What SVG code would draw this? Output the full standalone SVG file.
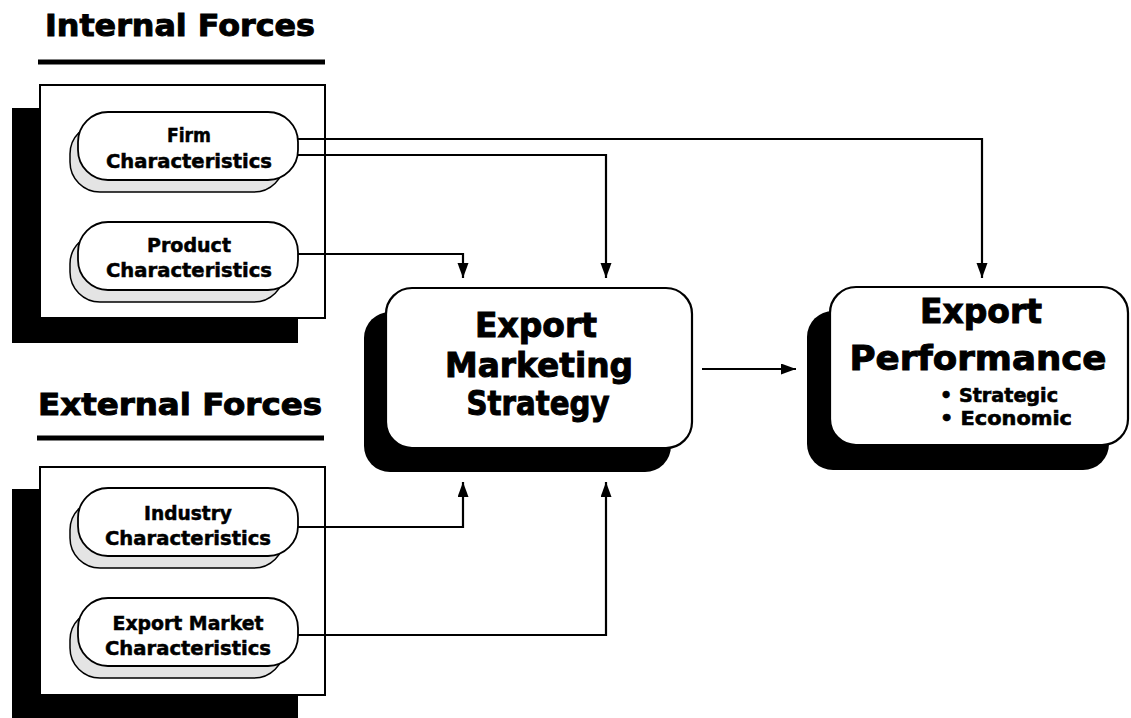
<svg xmlns="http://www.w3.org/2000/svg" width="1131" height="718" viewBox="0 0 1131 718">
<style>
  text { font-family: "DejaVu Sans", "Liberation Sans", sans-serif; font-weight: bold; fill: #000; stroke: #000; }
  .title { font-size: 31px; stroke-width: 1; }
  .small { font-size: 19px; text-anchor: middle; stroke-width: 0.5; }
  .big { font-size: 34px; text-anchor: middle; stroke-width: 1; }
  .bullet { font-size: 19px; stroke-width: 0.6; }
  .shadow { fill: #000; }
  .panel { fill: #fff; stroke: #000; stroke-width: 2; }
  .pill { fill: #fff; stroke: #000; stroke-width: 1.8; }
  .pillback { fill: #e4e4e4; stroke: #000; stroke-width: 1.5; }
  .main { fill: #fff; stroke: #000; stroke-width: 2.2; }
  .conn { fill: none; stroke: #000; stroke-width: 2.2; }
  .rule { stroke: #000; stroke-width: 5; }
</style>
<defs>
  <marker id="arrow" markerUnits="userSpaceOnUse" markerWidth="16" markerHeight="12" refX="15" refY="5.5" orient="auto">
    <path d="M0,0 L15,5.5 L0,11 z" fill="#000"/>
  </marker>
</defs>
<rect width="1131" height="718" fill="#fff"/>

<g id="internal-forces">
  <text class="title" x="45" y="36" textLength="270" lengthAdjust="spacingAndGlyphs">Internal Forces</text>
  <line class="rule" x1="38" y1="62" x2="325" y2="62"/>
  <rect class="shadow" x="12" y="108" width="286" height="235"/>
  <rect class="panel" x="40" y="85" width="285" height="233"/>
</g>

<g id="external-forces">
  <text class="title" x="38" y="415" textLength="284" lengthAdjust="spacingAndGlyphs">External Forces</text>
  <line class="rule" x1="37" y1="438" x2="324" y2="438"/>
  <rect class="shadow" x="12" y="489" width="286" height="235"/>
  <rect class="panel" x="40" y="467" width="285" height="228"/>
</g>

<g id="connectors">
  <path class="conn" d="M297,139 H982 V278" stroke-width="3" marker-end="url(#arrow)"/>
  <path class="conn" d="M297,155 H606 V278" marker-end="url(#arrow)"/>
  <path class="conn" d="M297,254 H463 V278" marker-end="url(#arrow)"/>
  <path class="conn" d="M297,527 H463 V482" marker-end="url(#arrow)"/>
  <path class="conn" d="M297,635 H606 V482" marker-end="url(#arrow)"/>
  <path class="conn" d="M702,369 H796" marker-end="url(#arrow)"/>
</g>

<g id="firm-characteristics">
  <rect class="pillback" x="70" y="124" width="214" height="68" rx="30"/>
  <rect class="pill" x="78" y="112" width="220" height="68" rx="30"/>
  <text class="small" x="189" y="142" textLength="44" lengthAdjust="spacingAndGlyphs">Firm</text>
  <text class="small" x="189" y="168" textLength="166" lengthAdjust="spacingAndGlyphs">Characteristics</text>
</g>

<g id="product-characteristics">
  <rect class="pillback" x="70" y="234" width="214" height="68" rx="30"/>
  <rect class="pill" x="78" y="222" width="220" height="68" rx="30"/>
  <text class="small" x="189" y="252" textLength="84" lengthAdjust="spacingAndGlyphs">Product</text>
  <text class="small" x="189" y="277" textLength="166" lengthAdjust="spacingAndGlyphs">Characteristics</text>
</g>

<g id="industry-characteristics">
  <rect class="pillback" x="70" y="500" width="214" height="68" rx="30"/>
  <rect class="pill" x="78" y="488" width="220" height="68" rx="30"/>
  <text class="small" x="188" y="520" textLength="88" lengthAdjust="spacingAndGlyphs">Industry</text>
  <text class="small" x="188" y="545" textLength="166" lengthAdjust="spacingAndGlyphs">Characteristics</text>
</g>

<g id="export-market-characteristics">
  <rect class="pillback" x="70" y="610" width="214" height="68" rx="30"/>
  <rect class="pill" x="78" y="598" width="220" height="68" rx="30"/>
  <text class="small" x="188" y="630" textLength="151" lengthAdjust="spacingAndGlyphs">Export Market</text>
  <text class="small" x="188" y="655" textLength="166" lengthAdjust="spacingAndGlyphs">Characteristics</text>
</g>

<g id="export-marketing-strategy">
  <rect class="shadow" x="364" y="312" width="307" height="160" rx="26"/>
  <rect class="main" x="386" y="288" width="306" height="160" rx="26"/>
  <text class="big" x="536" y="337" textLength="122" lengthAdjust="spacingAndGlyphs">Export</text>
  <text class="big" x="539" y="377" textLength="188" lengthAdjust="spacingAndGlyphs">Marketing</text>
  <text class="big" x="538" y="415" textLength="143" lengthAdjust="spacingAndGlyphs">Strategy</text>
</g>

<g id="export-performance">
  <rect class="shadow" x="807" y="311" width="302" height="159" rx="26"/>
  <rect class="main" x="830" y="287" width="298" height="158" rx="26"/>
  <text class="big" x="981" y="323" textLength="122" lengthAdjust="spacingAndGlyphs">Export</text>
  <text class="big" x="978" y="370" textLength="257" lengthAdjust="spacingAndGlyphs">Performance</text>
  <text class="bullet" x="940" y="402" textLength="118" lengthAdjust="spacingAndGlyphs">• Strategic</text>
  <text class="bullet" x="940" y="425" textLength="132" lengthAdjust="spacingAndGlyphs">• Economic</text>
</g>
</svg>
